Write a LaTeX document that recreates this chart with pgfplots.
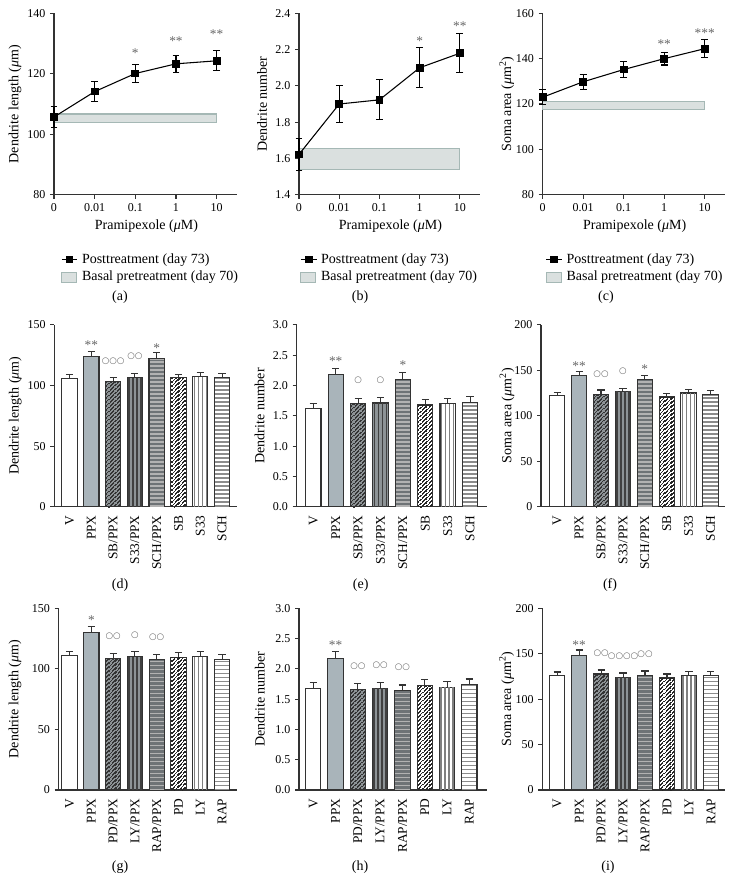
\documentclass[border=0pt]{standalone}
\usepackage{fontspec}
\setmainfont{Liberation Serif}
\newfontfamily\dejavu{DejaVu Sans}
\usepackage{pgfplots}
\pgfplotsset{compat=1.18}
\definecolor{axc}{HTML}{333333}
\definecolor{ppx}{HTML}{A9B4BA}
\definecolor{dkbg}{HTML}{8D9396}
\definecolor{dkbg2}{HTML}{6E7376}
\definecolor{bandc}{HTML}{A5B8B5}
\definecolor{bandf}{HTML}{DAE0DF}
\definecolor{starc}{HTML}{666666}
\tikzset{
  st/.style={font=\fontsize{10}{10}\selectfont, text=starc, inner sep=0pt, yshift=-1.3pt},
  ci/.style={font=\dejavu\fontsize{6.5}{6.5}\selectfont, text=starc, inner sep=0pt},
  pl/.style={font=\fontsize{10.5}{12}\selectfont, inner sep=0pt},
}
\pgfplotsset{
  base/.style={scale only axis, anchor=south west, axis x line*=bottom, axis y line*=left,
    axis line style={line width=0.9pt, draw=axc},
    every tick/.style={line width=0.8pt, draw=axc},
    tick align=outside, major tick length=3pt,
    tick label style={font=\fontsize{9}{10}\selectfont, text=black},
    label style={font=\fontsize{10.5}{12}\selectfont},
    /pgf/number format/assume math mode=true,
    clip=false, ytick pos=left, xtick pos=bottom},
  lineax/.style={base, xmin=0, xmax=4.5, xtick={0,1,2,3,4}, xticklabels={0,0.01,0.1,1,10},
    xlabel={Pramipexole (\textit{μ}M)},
    xlabel style={at={(axis description cs:0.505,-0.176)}, anchor=center},
    legend style={draw=none, fill=none, font=\fontsize{10.5}{12}\selectfont, inner sep=0pt,
      row sep=4.5pt, cells={anchor=west}, nodes={inner ysep=0pt, inner xsep=3pt}},
    reverse legend},
  barax/.style={base, ymin=0, xtick={0,1,2,3,4,5,6,7}, x tick style={draw=none},
    x tick label style={rotate=90, anchor=east, font=\fontsize{10}{11}\selectfont}},
  band/.style={draw=bandc, line width=0.8pt, fill=bandf,
    legend image code/.code={\draw[##1] (0pt,-3.75pt) rectangle (11.25pt,3.75pt);}},
  ln/.style={legend image code/.code={\draw[##1, mark repeat=2, mark phase=2] plot coordinates {(0pt,0pt) (5.9pt,0pt) (11.8pt,0pt)};},
    draw=black, line width=0.8pt, mark=square*, mark size=2.5pt, mark options={solid, fill=black},
    error bars/.cd, y dir=both, y explicit, error bar style={line width=0.8pt, draw=black},
    error mark options={rotate=90, mark size=2.6pt, line width=0.8pt, draw=black}},
  bb/.style={ybar, bar width=11.5pt, bar shift=0pt, draw=axc, line width=0.8pt, forget plot},
  bV/.style={bb, fill=white},
  bP/.style={bb, fill=ppx},
  bA/.style={bb, fill=dkbg},
  bB/.style={bb, fill=dkbg},
  bC/.style={bb, fill=dkbg2},
  bD/.style={bb, fill=white},
  bE/.style={bb, fill=white},
  bF/.style={bb, fill=white},
  dsl/.style={ycomb, forget plot, mark=none, line width=0.95pt, dash pattern=on 1.25pt off 1.75pt},
  vsl/.style={ycomb, forget plot, mark=none, line width=1.1pt},
  hsl/.style={ycomb, forget plot, mark=none, line width=10.6pt, dash pattern=on 1.1pt off 1.9pt},
  eb/.style={forget plot, draw=none, mark=none, error bars/.cd, y dir=plus, y explicit,
    error bar style={draw=axc, line width=0.8pt},
    error mark options={rotate=90, draw=axc, mark size=2.7pt, line width=0.8pt}},
}
% hatching drawn from the same data point as each bar
\newcommand\hatchD[3]{%
 \addplot[dsl, draw=#3, xshift=-4.895pt, dash phase=0pt] coordinates {(#1,#2)};
 \addplot[dsl, draw=#3, xshift=-4.005pt, dash phase=2.11pt] coordinates {(#1,#2)};
 \addplot[dsl, draw=#3, xshift=-3.115pt, dash phase=1.22pt] coordinates {(#1,#2)};
 \addplot[dsl, draw=#3, xshift=-2.225pt, dash phase=0.33pt] coordinates {(#1,#2)};
 \addplot[dsl, draw=#3, xshift=-1.335pt, dash phase=2.44pt] coordinates {(#1,#2)};
 \addplot[dsl, draw=#3, xshift=-0.445pt, dash phase=1.55pt] coordinates {(#1,#2)};
 \addplot[dsl, draw=#3, xshift=0.445pt, dash phase=0.66pt] coordinates {(#1,#2)};
 \addplot[dsl, draw=#3, xshift=1.335pt, dash phase=2.77pt] coordinates {(#1,#2)};
 \addplot[dsl, draw=#3, xshift=2.225pt, dash phase=1.88pt] coordinates {(#1,#2)};
 \addplot[dsl, draw=#3, xshift=3.115pt, dash phase=0.99pt] coordinates {(#1,#2)};
 \addplot[dsl, draw=#3, xshift=4.005pt, dash phase=0.10pt] coordinates {(#1,#2)};
 \addplot[dsl, draw=#3, xshift=4.895pt, dash phase=2.21pt] coordinates {(#1,#2)};}
\newcommand\hatchV[3]{%
 \addplot[vsl, draw=#3, xshift=-4.5pt] coordinates {(#1,#2)};
 \addplot[vsl, draw=#3, xshift=-1.5pt] coordinates {(#1,#2)};
 \addplot[vsl, draw=#3, xshift=1.5pt] coordinates {(#1,#2)};
 \addplot[vsl, draw=#3, xshift=4.5pt] coordinates {(#1,#2)};}
\newcommand\hatchH[3]{%
 \addplot[hsl, draw=#3] coordinates {(#1,#2)};}
\begin{document}
\begin{tikzpicture}
\useasboundingbox (0,0) rectangle (549.75pt,-670.5pt);
% ---------------- (a)
\begin{axis}[lineax, at={(40.5pt,-146pt)}, width=137.25pt, height=136pt,
  ymin=80, ymax=140, ytick={80,100,120,140},
  ylabel={Dendrite length (\textit{μ}m)}, ylabel style={at={(axis description cs:-0.213,0.5)}, anchor=center},
  legend style={at={(axis description cs:0.038,-0.323)}, anchor=north west}]
\addplot[band] coordinates {(0,103.9) (4,103.9) (4,106.7) (0,106.7)} --cycle;
\addlegendentry{Basal pretreatment (day 70)}
\addplot[ln] coordinates {(0,105.7) +- (0,3.5) (1,114.1) +- (0,3.2) (2,120.1) +- (0,3.0) (3,123.3) +- (0,2.8) (4,124.3) +- (0,3.3)};
\addlegendentry{Posttreatment (day 73)}
\node[st] at (axis cs:2,127.5) {*};
\node[st] at (axis cs:3,131.5) {**};
\node[st] at (axis cs:4,133.8) {**};
\end{axis}
% ---------------- (b)
\begin{axis}[lineax, at={(224.25pt,-146pt)}, width=135.75pt, height=136pt,
  ymin=1.4, ymax=2.4, ytick={1.4,1.6,1.8,2.0,2.2,2.4},
  yticklabel style={/pgf/number format/.cd, fixed, fixed zerofill, precision=1},
  ylabel={Dendrite number}, ylabel style={at={(axis description cs:-0.204,0.5)}, anchor=center},
  legend style={at={(axis description cs:0.006,-0.323)}, anchor=north west}]
\addplot[band] coordinates {(0,1.538) (4,1.538) (4,1.653) (0,1.653)} --cycle;
\addlegendentry{Basal pretreatment (day 70)}
\addplot[ln] coordinates {(0,1.622) +- (0,0.09) (1,1.90) +- (0,0.104) (2,1.923) +- (0,0.11) (3,2.10) +- (0,0.11) (4,2.18) +- (0,0.107)};
\addlegendentry{Posttreatment (day 73)}
\node[st] at (axis cs:3,2.259) {*};
\node[st] at (axis cs:4,2.341) {**};
\end{axis}
% ---------------- (c)
\begin{axis}[lineax, at={(407pt,-146pt)}, width=136.7pt, height=136pt,
  ymin=80, ymax=160, ytick={80,100,120,140,160},
  ylabel={Soma area (\textit{μ}m\textsuperscript{2})}, ylabel style={at={(axis description cs:-0.197,0.5)}, anchor=center},
  legend style={at={(axis description cs:0.016,-0.323)}, anchor=north west}]
\addplot[band] coordinates {(0,117.4) (4,117.4) (4,121.1) (0,121.1)} --cycle;
\addlegendentry{Basal pretreatment (day 70)}
\addplot[ln] coordinates {(0,123.0) +- (0,3.2) (1,129.8) +- (0,3.3) (2,135.2) +- (0,3.7) (3,140.0) +- (0,2.8) (4,144.4) +- (0,4.0)};
\addlegendentry{Posttreatment (day 73)}
\node[st] at (axis cs:3,147.1) {**};
\node[st] at (axis cs:4,152.2) {***};
\end{axis}
% ---------------- (d)
\begin{axis}[barax, at={(40.7pt,-380pt)}, width=136.8pt, height=136.3pt,
  xmin=-0.70, xmax=7.67, ymax=150, ytick={0,50,100,150},
  xticklabels={V,PPX,SB/PPX,S33/PPX,SCH/PPX,SB,S33,SCH},
  ylabel={Dendrite length (\textit{μ}m)}, ylabel style={at={(axis description cs:-0.214,0.5)}, anchor=center}]
\addplot[bV] coordinates {(0,105.7)};
\addplot[bP] coordinates {(1,123.9)};
\addplot[bA] coordinates {(2,103.2)}; \hatchD{2}{103.2}{black!80}
\addplot[bB] coordinates {(3,106.5)}; \hatchV{3}{106.5}{black!75}
\addplot[bC] coordinates {(4,122.2)}; \hatchH{4}{122.2}{black!30}
\addplot[bD] coordinates {(5,106.5)}; \hatchD{5}{106.5}{black!85}
\addplot[bE] coordinates {(6,107.3)}; \hatchV{6}{107.3}{black!50}
\addplot[bF] coordinates {(7,106.5)}; \hatchH{7}{106.5}{black!45}
\addplot[eb] coordinates {(0,105.7) +- (0,3.3) (1,123.9) +- (0,4.0) (2,103.2) +- (0,3.3) (3,106.5) +- (0,3.6) (4,122.2) +- (0,5.0) (5,106.5) +- (0,2.8) (6,107.3) +- (0,3.6) (7,106.5) +- (0,3.6)};
\node[st] at (axis cs:1,134.4) {**};
\node[ci] at (axis cs:2,119.7) {○○○};
\node[ci] at (axis cs:3,124.4) {○○};
\node[st] at (axis cs:4,132.7) {*};
\end{axis}
% ---------------- (e)
\begin{axis}[barax, at={(222.4pt,-380pt)}, width=142.9pt, height=136.3pt,
  xmin=-0.75, xmax=7.76, ymax=3, ytick={0,0.5,1,1.5,2,2.5,3},
  yticklabel style={/pgf/number format/.cd, fixed, fixed zerofill, precision=1},
  xticklabels={V,PPX,SB/PPX,S33/PPX,SCH/PPX,SB,S33,SCH},
  ylabel={Dendrite number}, ylabel style={at={(axis description cs:-0.194,0.5)}, anchor=center}]
\addplot[bV] coordinates {(0,1.618)};
\addplot[bP] coordinates {(1,2.175)};
\addplot[bA] coordinates {(2,1.696)}; \hatchD{2}{1.696}{black!80}
\addplot[bB] coordinates {(3,1.712)}; \hatchV{3}{1.712}{black!75}
\addplot[bC] coordinates {(4,2.103)}; \hatchH{4}{2.103}{black!30}
\addplot[bD] coordinates {(5,1.679)}; \hatchD{5}{1.679}{black!85}
\addplot[bE] coordinates {(6,1.696)}; \hatchV{6}{1.696}{black!50}
\addplot[bF] coordinates {(7,1.717)}; \hatchH{7}{1.717}{black!45}
\addplot[eb] coordinates {(0,1.618) +- (0,0.08) (1,2.175) +- (0,0.11) (2,1.696) +- (0,0.094) (3,1.712) +- (0,0.094) (4,2.103) +- (0,0.11) (5,1.679) +- (0,0.088) (6,1.696) +- (0,0.094) (7,1.717) +- (0,0.1)};
\node[st] at (axis cs:1,2.434) {**};
\node[ci] at (axis cs:2,2.081) {○};
\node[ci] at (axis cs:3,2.081) {○};
\node[st] at (axis cs:4,2.368) {*};
\end{axis}
% ---------------- (f)
\begin{axis}[barax, at={(405.75pt,-380pt)}, width=138pt, height=136.3pt,
  xmin=-0.74, xmax=7.66, ymax=200, ytick={0,50,100,150,200},
  xticklabels={V,PPX,SB/PPX,S33/PPX,SCH/PPX,SB,S33,SCH},
  ylabel={Soma area (\textit{μ}m\textsuperscript{2})}, ylabel style={at={(axis description cs:-0.185,0.5)}, anchor=center}]
\addplot[bV] coordinates {(0,122.2)};
\addplot[bP] coordinates {(1,143.9)};
\addplot[bA] coordinates {(2,123.3)}; \hatchD{2}{123.3}{black!80}
\addplot[bB] coordinates {(3,127.0)}; \hatchV{3}{127.0}{black!75}
\addplot[bC] coordinates {(4,139.5)}; \hatchH{4}{139.5}{black!30}
\addplot[bD] coordinates {(5,120.7)}; \hatchD{5}{120.7}{black!85}
\addplot[bE] coordinates {(6,125.1)}; \hatchV{6}{125.1}{black!50}
\addplot[bF] coordinates {(7,123.3)}; \hatchH{7}{123.3}{black!45}
\addplot[eb] coordinates {(0,122.2) +- (0,3.7) (1,143.9) +- (0,4.7) (2,123.3) +- (0,5.1) (3,127.0) +- (0,3.3) (4,139.5) +- (0,4.7) (5,120.7) +- (0,4.1) (6,125.1) +- (0,4.1) (7,123.3) +- (0,4.4)};
\node[st] at (axis cs:1,156.7) {**};
\node[ci] at (axis cs:2,146.1) {○○};
\node[ci] at (axis cs:3,149.0) {○};
\node[st] at (axis cs:4,153.0) {*};
\end{axis}
% ---------------- (g)
\begin{axis}[barax, at={(44pt,-592.5pt)}, width=133.5pt, height=136.3pt,
  xmin=-0.50, xmax=7.67, ymax=150, ytick={0,50,100,150},
  xticklabels={V,PPX,PD/PPX,LY/PPX,RAP/PPX,PD,LY,RAP},
  ylabel={Dendrite length (\textit{μ}m)}, ylabel style={at={(axis description cs:-0.245,0.5)}, anchor=center}]
\addplot[bV] coordinates {(0,110.9)};
\addplot[bP] coordinates {(1,129.9)};
\addplot[bA] coordinates {(2,108.4)}; \hatchD{2}{108.4}{black!80}
\addplot[bB] coordinates {(3,110.1)}; \hatchV{3}{110.1}{black!75}
\addplot[bC] coordinates {(4,107.9)}; \hatchH{4}{107.9}{black!30}
\addplot[bD] coordinates {(5,109.6)}; \hatchD{5}{109.6}{black!85}
\addplot[bE] coordinates {(6,110.1)}; \hatchV{6}{110.1}{black!50}
\addplot[bF] coordinates {(7,107.9)}; \hatchH{7}{107.9}{black!45}
\addplot[eb] coordinates {(0,110.9) +- (0,3.3) (1,129.9) +- (0,5.0) (2,108.4) +- (0,4.5) (3,110.1) +- (0,4.1) (4,107.9) +- (0,4.1) (5,109.6) +- (0,3.8) (6,110.1) +- (0,3.9) (7,107.9) +- (0,4.1)};
\node[st] at (axis cs:1,141.8) {*};
\node[ci] at (axis cs:2,126.6) {○○};
\node[ci] at (axis cs:3,128.0) {○};
\node[ci] at (axis cs:4,125.8) {○○};
\end{axis}
% ---------------- (h)
\begin{axis}[barax, at={(224.25pt,-592.5pt)}, width=140.8pt, height=136.3pt,
  xmin=-0.64, xmax=7.78, ymax=3, ytick={0,0.5,1,1.5,2,2.5,3},
  yticklabel style={/pgf/number format/.cd, fixed, fixed zerofill, precision=1},
  xticklabels={V,PPX,PD/PPX,LY/PPX,RAP/PPX,PD,LY,RAP},
  ylabel={Dendrite number}, ylabel style={at={(axis description cs:-0.208,0.5)}, anchor=center}]
\addplot[bV] coordinates {(0,1.679)};
\addplot[bP] coordinates {(1,2.17)};
\addplot[bA] coordinates {(2,1.663)}; \hatchD{2}{1.663}{black!80}
\addplot[bB] coordinates {(3,1.679)}; \hatchV{3}{1.679}{black!75}
\addplot[bC] coordinates {(4,1.64)}; \hatchH{4}{1.64}{black!30}
\addplot[bD] coordinates {(5,1.723)}; \hatchD{5}{1.723}{black!85}
\addplot[bE] coordinates {(6,1.696)}; \hatchV{6}{1.696}{black!50}
\addplot[bF] coordinates {(7,1.745)}; \hatchH{7}{1.745}{black!45}
\addplot[eb] coordinates {(0,1.679) +- (0,0.1) (1,2.17) +- (0,0.11) (2,1.663) +- (0,0.088) (3,1.679) +- (0,0.093) (4,1.64) +- (0,0.094) (5,1.723) +- (0,0.094) (6,1.696) +- (0,0.093) (7,1.745) +- (0,0.088)};
\node[st] at (axis cs:1,2.422) {**};
\node[ci] at (axis cs:2,2.036) {○○};
\node[ci] at (axis cs:3,2.059) {○○};
\node[ci] at (axis cs:4,2.026) {○○};
\end{axis}
% ---------------- (i)
\begin{axis}[barax, at={(406.7pt,-592.5pt)}, width=137pt, height=136.3pt,
  xmin=-0.68, xmax=7.64, ymax=200, ytick={0,50,100,150,200},
  xticklabels={V,PPX,PD/PPX,LY/PPX,RAP/PPX,PD,LY,RAP},
  ylabel={Soma area (\textit{μ}m\textsuperscript{2})}, ylabel style={at={(axis description cs:-0.195,0.5)}, anchor=center}]
\addplot[bV] coordinates {(0,126.2)};
\addplot[bP] coordinates {(1,148.2)};
\addplot[bA] coordinates {(2,127.7)}; \hatchD{2}{127.7}{black!80}
\addplot[bB] coordinates {(3,124.0)}; \hatchV{3}{124.0}{black!75}
\addplot[bC] coordinates {(4,126.2)}; \hatchH{4}{126.2}{black!30}
\addplot[bD] coordinates {(5,123.3)}; \hatchD{5}{123.3}{black!85}
\addplot[bE] coordinates {(6,125.8)}; \hatchV{6}{125.8}{black!50}
\addplot[bF] coordinates {(7,126.2)}; \hatchH{7}{126.2}{black!45}
\addplot[eb] coordinates {(0,126.2) +- (0,3.7) (1,148.2) +- (0,5.9) (2,127.7) +- (0,4.4) (3,124.0) +- (0,4.8) (4,126.2) +- (0,4.8) (5,123.3) +- (0,4.4) (6,125.8) +- (0,4.4) (7,126.2) +- (0,4.5)};
\node[st] at (axis cs:1,161.5) {**};
\node[ci] at (axis cs:2,150.5) {○○};
\node[ci] at (axis cs:3,147.5) {○○○○};
\node[ci] at (axis cs:4,149.7) {○○};
\end{axis}
% panel labels
\node[pl] at (90pt,-222.75pt) {(a)};
\node[pl] at (270pt,-222.75pt) {(b)};
\node[pl] at (454.5pt,-222.75pt) {(c)};
\node[pl] at (90pt,-438.75pt) {(d)};
\node[pl] at (270.5pt,-438.75pt) {(e)};
\node[pl] at (457.5pt,-438.75pt) {(f)};
\node[pl] at (90pt,-650pt) {(g)};
\node[pl] at (270pt,-650pt) {(h)};
\node[pl] at (456pt,-650pt) {(i)};
\end{tikzpicture}
\end{document}
